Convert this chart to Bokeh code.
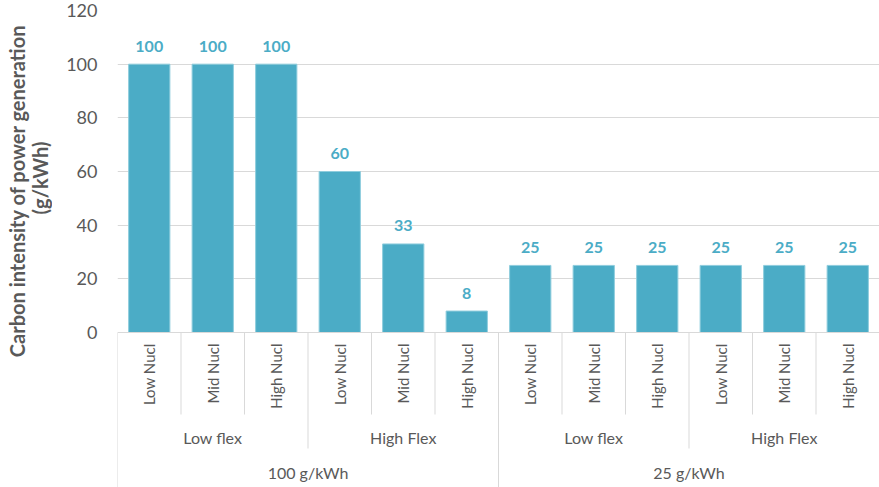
from math import pi

from bokeh.core.properties import value
from bokeh.embed import file_html
from bokeh.layouts import row
from bokeh.models import ColumnDataSource, FactorRange, FixedTicker, Range1d
from bokeh.plotting import figure
from bokeh.resources import INLINE

# ---- data -------------------------------------------------------------
scenarios = ["100 g/kWh", "25 g/kWh"]
flexibility = ["Low flex", "High Flex"]
nuclear = ["Low Nucl", "Mid Nucl", "High Nucl"]
carbon_intensity = [100, 100, 100, 60, 33, 8, 25, 25, 25, 25, 25, 25]
y_ticks = [0, 20, 40, 60, 80, 100, 120]
y_title = ["Carbon intensity of power generation", "(g/kWh)"]

# ---- styling ----------------------------------------------------------
FONT = "Lato"
BAR = "#4BACC6"
BAR_EDGE = "#8FCDDD"
TEXT = "#595959"
RULE = "#D9D9D9"

WIDTH, HEIGHT = 879, 487
TITLE_W = 52                      # strip on the far left holding the axis title
LEFT, TOP_PAD = 117, 10           # frame starts LEFT px from the page edge
ZERO_PX = 332                     # screen row of the value axis baseline
INNER_SEP, MID_SEP = 82, 116      # separator lengths below the baseline (px)

# pixels per data unit on the value axis; the category band sits below zero
px_per_unit = (ZERO_PX - TOP_PAD) / y_ticks[-1]
y_min = -(HEIGHT - ZERO_PX) / px_per_unit


def below(px):
    """Data y for a point `px` screen pixels under the baseline."""
    return -px / px_per_unit


factors = [(s, f, n) for s in scenarios for f in flexibility for n in nuclear]
x_range = FactorRange(*factors, factor_padding=0, subgroup_padding=0,
                      group_padding=0, range_padding=0)

p = figure(x_range=x_range, y_range=Range1d(y_min, y_ticks[-1]),
           width=WIDTH - TITLE_W, height=HEIGHT,
           output_backend="svg", toolbar_location=None,
           min_border_left=LEFT - TITLE_W, min_border_right=0,
           min_border_top=TOP_PAD, min_border_bottom=0)

# ---- bars and value labels --------------------------------------------
bars = ColumnDataSource(dict(x=factors, y=carbon_intensity,
                             label=[str(v) for v in carbon_intensity]))
p.vbar(x="x", top="y", width=0.65, source=bars,
       fill_color=BAR, line_color=BAR_EDGE, line_width=1)
p.text(x="x", y="y", text="label", source=bars,
       text_font=value(FONT), text_font_style="bold", text_font_size="16px",
       text_color=BAR, text_align="center", text_baseline="alphabetic",
       y_offset=-18)

# ---- value axis -------------------------------------------------------
yaxis = p.yaxis[0]
yaxis.bounds = (y_ticks[0], y_ticks[-1])
yaxis.ticker = FixedTicker(ticks=y_ticks)
yaxis.axis_line_color = None
yaxis.major_tick_line_color = None
yaxis.minor_tick_line_color = None
yaxis.major_tick_out = 0
yaxis.major_label_standoff = 20
yaxis.major_label_text_font = FONT
yaxis.major_label_text_font_size = "18px"
yaxis.major_label_text_color = TEXT

p.xaxis.visible = False
p.xgrid.visible = False
p.ygrid.ticker = FixedTicker(ticks=y_ticks[1:])
p.ygrid.grid_line_color = RULE
p.outline_line_color = None

# ---- multi-level category axis ------------------------------------------
sep_x, sep_y1 = [], []
n = len(factors)
for i in range(n + 1):
    if i == 0 or i == n or factors[i][0] != factors[i - 1][0]:
        length = HEIGHT - ZERO_PX
    elif factors[i][1] != factors[i - 1][1]:
        length = MID_SEP
    else:
        length = INNER_SEP
    anchor = list(factors[i]) + [-0.5] if i < n else list(factors[-1]) + [0.5]
    sep_x.append(anchor)
    sep_y1.append(below(length))

p.segment(x0=sep_x, y0=[0] * len(sep_x), x1=sep_x, y1=sep_y1,
          line_color=RULE, line_width=1)
p.segment(x0=[sep_x[0]], y0=[0], x1=[sep_x[-1]], y1=[0],
          line_color=RULE, line_width=1)

p.text(x=factors, y=[below(11)] * n, text=[f[2] for f in factors], angle=pi / 2,
       text_font=value(FONT), text_font_size="15px", text_color=TEXT,
       text_align="right", text_baseline="middle")

groups = [(s, f) for s in scenarios for f in flexibility]
p.text(x=groups, y=[below(105)] * len(groups), text=[g[1] for g in groups],
       text_font=value(FONT), text_font_size="16px", text_color=TEXT,
       text_align="center", text_baseline="middle")

p.text(x=scenarios, y=[below(140)] * len(scenarios), text=scenarios,
       text_font=value(FONT), text_font_size="16px", text_color=TEXT,
       text_align="center", text_baseline="middle")

# ---- axis title strip -------------------------------------------------
# y here counts screen pixels upward from the page bottom
t = figure(x_range=Range1d(0, TITLE_W), y_range=Range1d(0, HEIGHT),
           width=TITLE_W, height=HEIGHT, output_backend="svg", toolbar_location=None,
           min_border_left=0, min_border_right=0, min_border_top=0, min_border_bottom=0)
t.axis.visible = False
t.grid.visible = False
t.outline_line_color = None
t.text(x=[16, 39], y=[HEIGHT - 184, HEIGHT - 171], text=y_title, angle=pi / 2,
       text_font=value(FONT), text_font_style="bold", text_font_size="20px",
       text_color=TEXT, text_align="center", text_baseline="middle")

with open("out.html", "w") as fh:
    fh.write(file_html(row(t, p, spacing=0), INLINE))
